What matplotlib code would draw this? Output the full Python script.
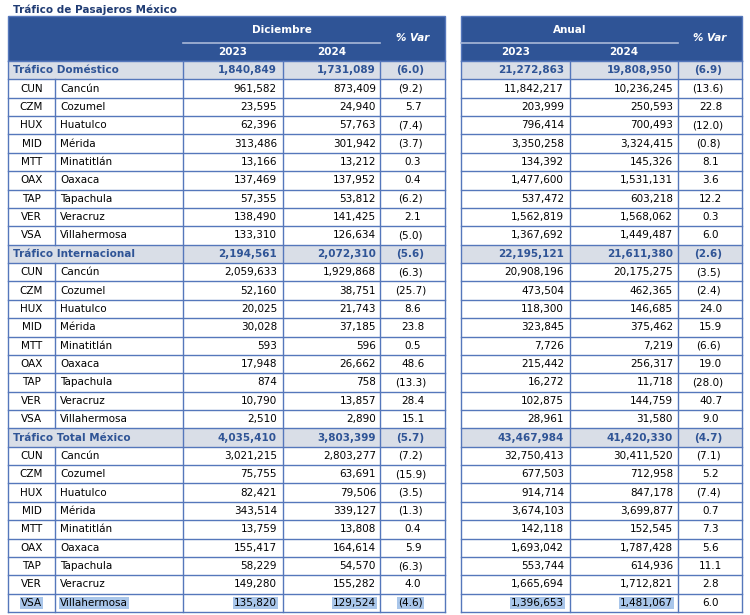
# Tráfico de pasajeros México - tabla Diciembre / Anual

import matplotlib.pyplot as plt
from matplotlib.patches import Rectangle

# Data
codes = ['CUN', 'CZM', 'HUX', 'MID', 'MTT', 'OAX', 'TAP', 'VER', 'VSA']
names = ['Cancún', 'Cozumel', 'Huatulco', 'Mérida', 'Minatitlán', 'Oaxaca', 'Tapachula', 'Veracruz', 'Villahermosa']
sections = ['Tráfico Doméstico', 'Tráfico Internacional', 'Tráfico Total México']

# [total, airports...] per section
dic_2023 = [
    [1840849, 961582, 23595, 62396, 313486, 13166, 137469, 57355, 138490, 133310],
    [2194561, 2059633, 52160, 20025, 30028, 593, 17948, 874, 10790, 2510],
    [4035410, 3021215, 75755, 82421, 343514, 13759, 155417, 58229, 149280, 135820],
]
dic_2024 = [
    [1731089, 873409, 24940, 57763, 301942, 13212, 137952, 53812, 141425, 126634],
    [2072310, 1929868, 38751, 21743, 37185, 596, 26662, 758, 13857, 2890],
    [3803399, 2803277, 63691, 79506, 339127, 13808, 164614, 54570, 155282, 129524],
]
dic_var = [
    [-6.0, -9.2, 5.7, -7.4, -3.7, 0.3, 0.4, -6.2, 2.1, -5.0],
    [-5.6, -6.3, -25.7, 8.6, 23.8, 0.5, 48.6, -13.3, 28.4, 15.1],
    [-5.7, -7.2, -15.9, -3.5, -1.3, 0.4, 5.9, -6.3, 4.0, -4.6],
]
anual_2023 = [
    [21272863, 11842217, 203999, 796414, 3350258, 134392, 1477600, 537472, 1562819, 1367692],
    [22195121, 20908196, 473504, 118300, 323845, 7726, 215442, 16272, 102875, 28961],
    [43467984, 32750413, 677503, 914714, 3674103, 142118, 1693042, 553744, 1665694, 1396653],
]
anual_2024 = [
    [19808950, 10236245, 250593, 700493, 3324415, 145326, 1531131, 603218, 1568062, 1449487],
    [21611380, 20175275, 462365, 146685, 375462, 7219, 256317, 11718, 144759, 31580],
    [41420330, 30411520, 712958, 847178, 3699877, 152545, 1787428, 614936, 1712821, 1481067],
]
anual_var = [
    [-6.9, -13.6, 22.8, -12.0, -0.8, 8.1, 3.6, 12.2, 0.3, 6.0],
    [-2.6, -3.5, -2.4, 24.0, 15.9, -6.6, 19.0, -28.0, 40.7, 9.0],
    [-4.7, -7.1, 5.2, -7.4, 0.7, 7.3, 5.6, 11.1, 2.8, 6.0],
]

# Colors
header_blue = '#2f5496'
section_bg = '#d9dee7'
line_blue = '#5577bb'
title_blue = '#1f3b73'
select_blue = '#a9c6ea'

fs = 7.5


def fmt_num(v):
    return f'{v:,}'


def fmt_var(v):
    return f'({abs(v):.1f})' if v < 0 else f'{v:.1f}'


fig = plt.figure(figsize=(7.5, 6.15), dpi=100)
ax = fig.add_axes([0, 0, 1, 1])
ax.set_xlim(0, 750)
ax.set_ylim(615, 0)
ax.axis('off')

# Column geometry (pixels)
L0, L1, L2, L3, L4, L5 = 8, 55, 183, 283, 380, 445
R0, R1, R2, R3 = 461, 570, 678, 742
top, head_bot = 16, 61
n_rows = len(sections) * (len(codes) + 1)
bottom = 612
row_h = (bottom - head_bot) / n_rows

ax.text(13, 10, 'Tráfico de Pasajeros México', fontsize=fs, fontweight='bold',
        color=title_blue, va='center', ha='left')

# Headers
for x0, x1 in [(L0, L5), (R0, R3)]:
    ax.add_patch(Rectangle((x0, top), x1 - x0, head_bot - top, facecolor=header_blue,
                           edgecolor=line_blue, lw=1))
ax.plot([L2, L4], [43, 43], color='#a9b8d8', lw=1.2)
ax.plot([R0, R2], [43, 43], color='#a9b8d8', lw=1.2)
hdr = dict(color='white', fontsize=fs, fontweight='bold', va='center', ha='center')
ax.text((L2 + L4) / 2, 30, 'Diciembre', **hdr)
ax.text((L2 + L3) / 2, 52, '2023', **hdr)
ax.text((L3 + L4) / 2, 52, '2024', **hdr)
ax.text((L4 + L5) / 2, 38, '% Var', style='italic', **hdr)
ax.text((R0 + R2) / 2, 30, 'Anual', **hdr)
ax.text((R0 + R1) / 2, 52, '2023', **hdr)
ax.text((R1 + R2) / 2, 52, '2024', **hdr)
ax.text((R2 + R3) / 2, 38, '% Var', style='italic', **hdr)


def var_text(xc, y, v, **kw):
    # positive values leave room for the closing parenthesis
    off = 0 if v < 0 else 2.5
    ax.text(xc - 3 + off, y, fmt_var(v), ha='center', va='center', fontsize=fs, **kw)


row = 0
for s in range(len(sections)):
    # section row
    y0 = head_bot + row * row_h
    yc = y0 + row_h / 2
    ax.add_patch(Rectangle((L0, y0), L5 - L0, row_h, facecolor=section_bg, edgecolor='none'))
    ax.add_patch(Rectangle((R0, y0), R3 - R0, row_h, facecolor=section_bg, edgecolor='none'))
    sk = dict(fontsize=fs, fontweight='bold', color=header_blue, va='center')
    ax.text(13, yc, sections[s], ha='left', **sk)
    ax.text(L3 - 6, yc, fmt_num(dic_2023[s][0]), ha='right', **sk)
    ax.text(L4 - 4, yc, fmt_num(dic_2024[s][0]), ha='right', **sk)
    var_text((L4 + L5) / 2 + 1, yc, dic_var[s][0], fontweight='bold', color=header_blue)
    ax.text(R1 - 6, yc, fmt_num(anual_2023[s][0]), ha='right', **sk)
    ax.text(R2 - 5, yc, fmt_num(anual_2024[s][0]), ha='right', **sk)
    var_text((R2 + R3) / 2 + 1, yc, anual_var[s][0], fontweight='bold', color=header_blue)
    row += 1

    for i in range(len(codes)):
        y0 = head_bot + row * row_h
        yc = y0 + row_h / 2
        # last row carries a text-selection highlight in the source
        last = (s == len(sections) - 1 and i == len(codes) - 1)
        bb = dict(facecolor=select_blue, edgecolor='none', pad=0.6) if last else None
        dk = dict(fontsize=fs, color='black', va='center', bbox=bb)
        ax.plot([L1, L1], [y0, y0 + row_h], color=line_blue, lw=1)
        ax.text((L0 + L1) / 2, yc, codes[i], ha='center', **dk)
        ax.text(60, yc, names[i], ha='left', **dk)
        ax.text(L3 - 6, yc, fmt_num(dic_2023[s][i + 1]), ha='right', **dk)
        ax.text(L4 - 4, yc, fmt_num(dic_2024[s][i + 1]), ha='right', **dk)
        var_text((L4 + L5) / 2 + 1, yc, dic_var[s][i + 1], color='black', bbox=bb)
        ax.text(R1 - 6, yc, fmt_num(anual_2023[s][i + 1]), ha='right', **dk)
        ax.text(R2 - 5, yc, fmt_num(anual_2024[s][i + 1]), ha='right', **dk)
        var_text((R2 + R3) / 2 + 1, yc, anual_var[s][i + 1], color='black')
        row += 1

# grid lines
for r in range(n_rows + 1):
    y = head_bot + r * row_h
    ax.plot([L0, L5], [y, y], color=line_blue, lw=1)
    ax.plot([R0, R3], [y, y], color=line_blue, lw=1)
for x in [L0, L2, L3, L4, L5]:
    ax.plot([x, x], [head_bot, bottom], color=line_blue, lw=1)
for x in [R0, R1, R2, R3]:
    ax.plot([x, x], [head_bot, bottom], color=line_blue, lw=1)

plt.savefig('out.png', dpi=100)
